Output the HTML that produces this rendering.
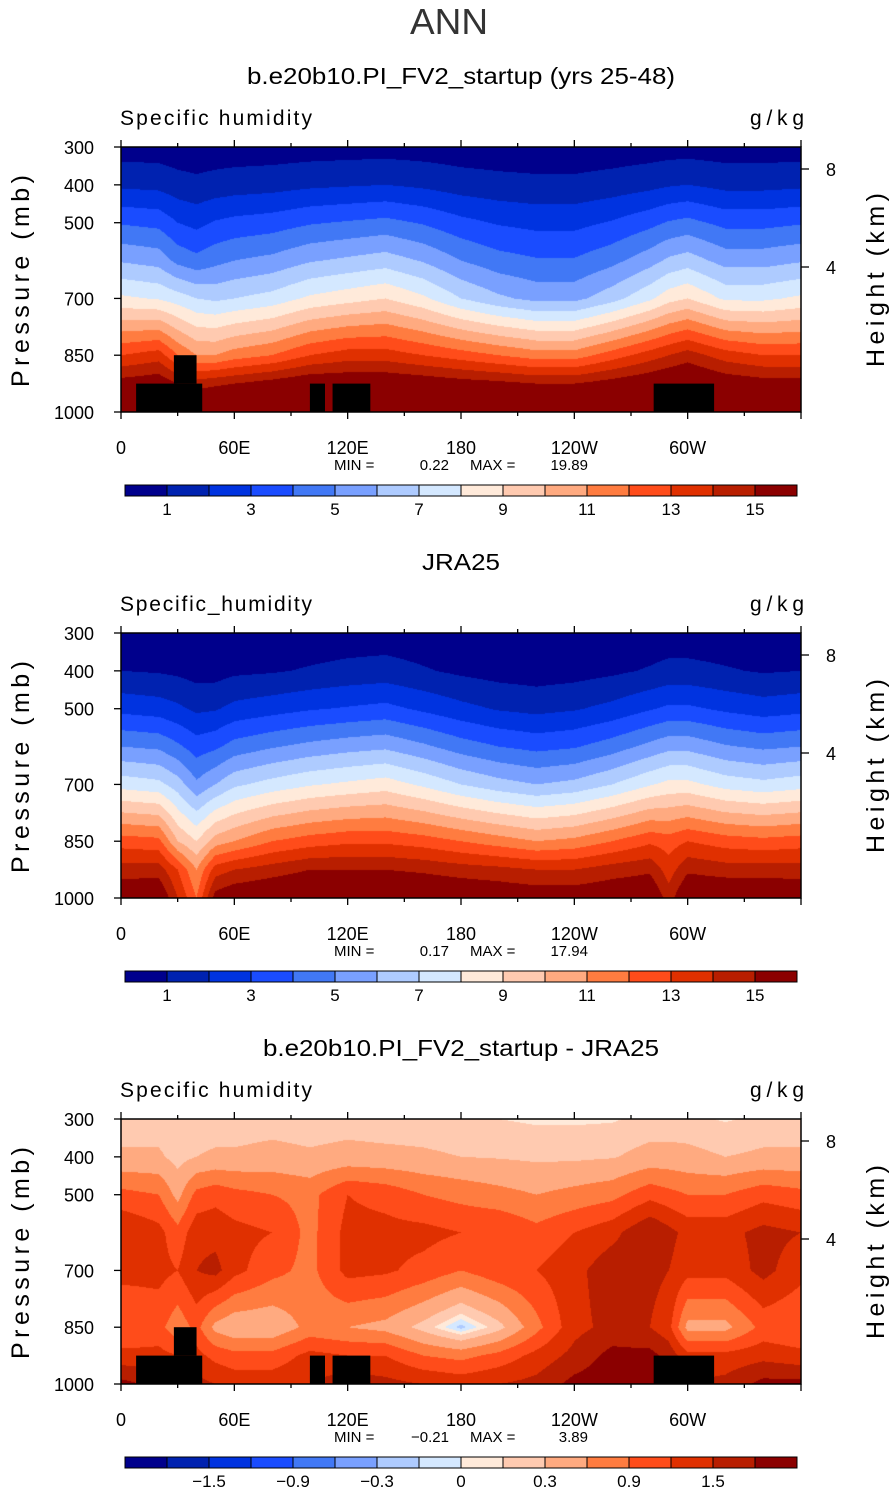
<!DOCTYPE html>
<html><head><meta charset="utf-8">
<style>
body{margin:0;background:#fff;width:895px;height:1493px;position:relative;overflow:hidden;font-family:"Liberation Sans",sans-serif;}
canvas{position:absolute;}
</style></head>
<body>
<svg id="svg" width="895" height="1493" style="position:absolute;left:0;top:0"></svg>
<script>
const colors=["#00008c","#0022b0","#0033e0","#1a4cff","#4178f5","#79a0ff","#aecbff","#d4e8ff","#ffeada","#ffcab0","#ffaa80","#ff7c40","#ff4c1a","#e03000","#b81e00","#8b0000"];
const levelsQ=[1,2,3,4,5,6,7,8,9,10,11,12,13,14,15];
const levelsD=[-1.8,-1.5,-1.2,-0.9,-0.6,-0.3,-0.1,0,0.1,0.3,0.6,0.9,1.2,1.5,1.8];
const barLabelsQ=["1","3","5","7","9","11","13","15"];
const barLabelsD=["-1.5","-0.9","-0.3","0","0.3","0.9","1.5"];
const pressures=[300,400,500,600,700,850,925,1000];
const lons=[0,20,30,40,50,60,80,100,120,140,160,180,200,220,240,260,280,290,300,320,340,360];
const xTickLons=[0,60,120,180,240,300];
const xTickLabels=["0","60E","120E","180","120W","60W"];
const pTicks=[300,400,500,700,850,1000];
const hTicks=[8,4];
const model=[
[.5,1.8,3.9,5.9,8.2,13,15.5,17],
[.48,1.7,3.7,5.6,7.9,13.5,15.8,17.2],
[.4,1.4,3.0,4.7,7.5,12,15,17],
[.35,1.26,2.7,4.3,7.0,11,14.5,17],
[.4,1.4,3.1,4.7,6.8,11,14.8,17],
[.43,1.5,3.3,5.0,7.0,11.5,15,17],
[.45,1.6,3.5,5.3,7.4,12,15.5,17.3],
[.5,1.8,3.9,5.9,8.2,13,16,17.5],
[.53,1.9,4.1,6.2,8.6,13.5,16,17.5],
[.55,2.0,4.3,6.5,9.0,13.5,16,17.5],
[.5,1.8,3.9,5.9,8.2,13,15.8,17.5],
[.43,1.5,3.3,5.0,7.0,12.5,15.5,17.3],
[.38,1.35,2.9,4.4,6.2,12,15.3,17.2],
[.35,1.26,2.7,4.1,5.7,11.5,15,17],
[.35,1.26,2.7,4.1,5.7,11.5,15,17],
[.4,1.45,3.1,4.7,6.6,12.5,15.5,17.2],
[.48,1.7,3.7,5.6,7.8,13.5,16,17.5],
[.53,1.9,4.1,6.2,8.6,14,16.3,17.5],
[.55,2.0,4.3,6.5,9.0,14.5,16.5,17.5],
[.48,1.7,3.7,5.6,7.8,13.5,15.8,17.2],
[.48,1.7,3.7,5.6,7.8,13,15.5,17],
[.5,1.8,3.9,5.9,8.2,13,15.5,17]];
const jra=[
[.3,1.0,2.7,5.0,7.6,12.5,14.5,16],
[.3,0.9,2.5,4.8,7.3,12.3,14.5,16.2],
[.25,0.8,2.2,4.2,6.5,10,13,14],
[.2,0.6,1.8,3.5,5.2,9,11,12],
[.2,0.6,1.9,3.8,6.0,10.5,13.5,15.5],
[.25,0.8,2.3,4.4,6.8,11,14,16],
[.3,0.9,2.6,4.9,7.4,12,14.5,16.3],
[.35,1.1,2.9,5.3,7.9,12.5,15,16.5],
[.4,1.3,3.1,5.6,8.2,12.8,15,16.5],
[.45,1.4,3.3,5.8,8.5,12.8,15,16.5],
[.35,1.1,2.8,5.2,7.8,12.5,14.8,16.4],
[.25,0.8,2.3,4.5,7.0,12,14.5,16.2],
[.2,0.6,1.9,4.0,6.4,11.5,14.3,16],
[.18,0.5,1.7,3.7,6.0,11,14,15.8],
[.2,0.6,1.9,3.9,6.3,11.3,14,15.8],
[.25,0.8,2.3,4.5,7.0,12,14.5,16],
[.35,1.1,2.9,5.3,7.9,12.8,14.8,16.2],
[.4,1.3,3.2,5.7,8.3,12.5,13.5,14.5],
[.4,1.3,3.2,5.7,8.3,13,14.8,16.3],
[.35,1.1,2.8,5.1,7.6,12.5,14.5,16.3],
[.3,0.9,2.5,4.8,7.3,12.3,14.5,16.2],
[.3,1.0,2.7,5.0,7.6,12.5,14.5,16]];
const diff=[
[.15,.35,1.0,1.5,1.3,.9,1.3,1.9],
[.15,.35,.9,1.3,1.3,1.0,1.3,1.7],
[.12,.2,.5,1.0,1.2,.7,1.2,1.7],
[.15,.3,1.0,1.4,1.5,1.0,1.3,1.6],
[.15,.35,1.1,1.4,1.6,.5,1.1,1.5],
[.15,.35,1.0,1.3,1.3,.35,1.0,1.4],
[.18,.4,.9,1.2,1.0,.35,1.0,1.4],
[.15,.35,.8,.8,.8,.7,1.3,1.5],
[.18,.4,1.2,1.3,1.3,.6,1.2,1.7],
[.15,.38,1.1,1.3,1.25,.5,1.2,1.6],
[.15,.35,.9,1.3,1.1,.2,.9,1.5],
[.12,.3,.8,1.2,.9,-.15,.8,1.4],
[.1,.28,.7,1.2,1.1,.2,1.0,1.5],
[.07,.25,.6,1.0,1.2,.8,1.3,1.6],
[.07,.25,.7,1.2,1.4,1.4,1.6,1.9],
[.08,.28,.8,1.4,1.7,1.6,1.9,2.0],
[.15,.4,1.1,1.8,1.6,1.5,1.9,2.0],
[.15,.4,1.0,1.6,1.5,1.3,1.7,1.9],
[.15,.38,.9,1.4,1.3,.5,1.3,1.5],
[.08,.3,.9,1.4,1.3,.5,1.3,1.6],
[.15,.35,1.1,1.6,1.6,1.0,1.4,1.9],
[.15,.35,1.0,1.5,1.3,.9,1.3,1.9]];
const terrain=[[8,43,925,1000],[28,40,850,925],[100,108,925,1000],[112,132,925,1000],[282,314,925,1000]];
const panels=[
 {top:147,title:"b.e20b10.PI_FV2_startup (yrs 25-48)",tl:428,field:"Specific humidity",data:model,levels:levelsQ,labels:barLabelsQ,lstep:[1,2],mask:true,min:"0.22",max:"19.89"},
 {top:633,title:"JRA25",tl:78,field:"Specific_humidity",data:jra,levels:levelsQ,labels:barLabelsQ,lstep:[1,2],mask:false,min:"0.17",max:"17.94"},
 {top:1119,title:"b.e20b10.PI_FV2_startup - JRA25",tl:396,field:"Specific humidity",data:diff,levels:levelsD,labels:barLabelsD,lstep:[2,2],mask:true,min:"\u22120.21",max:"3.89"}];
const L=121,W=680,H=265;
const xOf=lon=>L+lon/360*W;
const yOf=(top,p)=>top+(p-300)/700*H;
const NS="http://www.w3.org/2000/svg";
const svg=document.getElementById('svg');
function hex(c){return [parseInt(c.substr(1,2),16),parseInt(c.substr(3,2),16),parseInt(c.substr(5,2),16)];}
const rgb=colors.map(hex);
function sample(data,lon,p){
 let i=0;while(i<lons.length-2&&lons[i+1]<lon)i++;
 let j=0;while(j<pressures.length-2&&pressures[j+1]<p)j++;
 const tx=(lon-lons[i])/(lons[i+1]-lons[i]),ty=(p-pressures[j])/(pressures[j+1]-pressures[j]);
 const a=data[i][j],b=data[i+1][j],c=data[i][j+1],d=data[i+1][j+1];
 return a*(1-tx)*(1-ty)+b*tx*(1-ty)+c*(1-tx)*ty+d*tx*ty;}
function mk(tag,attrs,t){const e=document.createElementNS(NS,tag);for(const k in attrs)e.setAttribute(k,attrs[k]);if(t!==undefined)e.textContent=t;svg.appendChild(e);return e;}
function txt(x,y,s,size,anchor,extra){return mk('text',Object.assign({x:x,y:y,'font-size':size,'text-anchor':anchor||'start','font-family':'Liberation Sans, sans-serif'},extra||{}),s);}
let e=txt(449,34,'ANN',36,'middle',{fill:'#333',textLength:78,lengthAdjust:'spacingAndGlyphs'});

panels.forEach((pn,k)=>{
 const cv=document.createElement('canvas');cv.width=W;cv.height=H;cv.style.left=L+'px';cv.style.top=pn.top+'px';
 
 
 document.body.insertBefore(cv,svg);
 const ctx=cv.getContext('2d');const img=ctx.createImageData(W,H);
 for(let y=0;y<H;y++){const p=300+(y+0.5)/H*700;
  for(let x=0;x<W;x++){const lon=(x+0.5)/W*360;const v=sample(pn.data,lon,p);
   let c=0;while(c<pn.levels.length&&v>=pn.levels[c])c++;
   const col=rgb[c];const o=(y*W+x)*4;img.data[o]=col[0];img.data[o+1]=col[1];img.data[o+2]=col[2];img.data[o+3]=255;}}
 ctx.putImageData(img,0,0);
 const T=pn.top;
 if(pn.mask){terrain.forEach(r=>{const m=mk('rect',{x:xOf(r[0]),y:yOf(T,r[2]),width:xOf(r[1])-xOf(r[0]),height:yOf(T,r[3])-yOf(T,r[2]),fill:'#000'});});}
 const fr=mk('rect',{x:L,y:T,width:W,height:H,fill:'none',stroke:'#000','stroke-width':1.5});
 
 e=txt(461,T-63,pn.title,23,'middle',{textLength:pn.tl,lengthAdjust:'spacingAndGlyphs'});
 e=txt(120,T-22,pn.field,21,'start',{textLength:192,lengthAdjust:'spacing'});
 e=txt(804,T-22,'g/kg',21,'end',{textLength:54,lengthAdjust:'spacing'});
 pTicks.forEach(p=>{const y=yOf(T,p);mk('line',{x1:L-7,x2:L,y1:y,y2:y,stroke:'#000','stroke-width':1.3});
  e=txt(94,y+7,String(p),18,'end');});
 const hy=[T+22,T+120];
 hTicks.forEach((h,i)=>{mk('line',{x1:L+W,x2:L+W+8,y1:hy[i],y2:hy[i],stroke:'#000','stroke-width':1.3});
  e=txt(826,hy[i]+7,String(h),18,'start');});
 e=txt(0,0,'Pressure (mb)',25,'middle',{transform:`translate(29,${T+134}) rotate(-90)`,textLength:212,lengthAdjust:'spacing'});
 e=txt(0,0,'Height (km)',25,'middle',{transform:`translate(884,${T+133}) rotate(-90)`,textLength:174,lengthAdjust:'spacing'});
 for(let lon=0;lon<=360;lon+=30){const x=xOf(lon);const len=lon%60===0?7:4;
  mk('line',{x1:x,x2:x,y1:T+H,y2:T+H+len,stroke:'#000','stroke-width':1.3});
  mk('line',{x1:x,x2:x,y1:T,y2:T-len,stroke:'#000','stroke-width':1.3});}
 xTickLons.forEach((lon,i)=>{const x=xOf(lon);
  e=txt(x,T+H+42,xTickLabels[i],18,'middle');});
 e=txt(334,T+H+58,'MIN =',15,'start');
 e=txt(449,T+H+58,pn.min,15,'end');
 e=txt(470,T+H+58,'MAX =',15,'start');
 e=txt(588,T+H+58,pn.max,15,'end');
 const by=T+338,bw=42;
 colors.forEach((c,i)=>{e=mk('rect',{x:125+i*bw,y:by,width:bw,height:11,fill:c,stroke:'#000','stroke-width':1});});
 pn.labels.forEach((s,i)=>{const b=pn.lstep[0]+pn.lstep[1]*i;e=txt(125+bw*b,by+30,s.replace('-','\u2212'),17,'middle');});
});
</script>
</body></html>
